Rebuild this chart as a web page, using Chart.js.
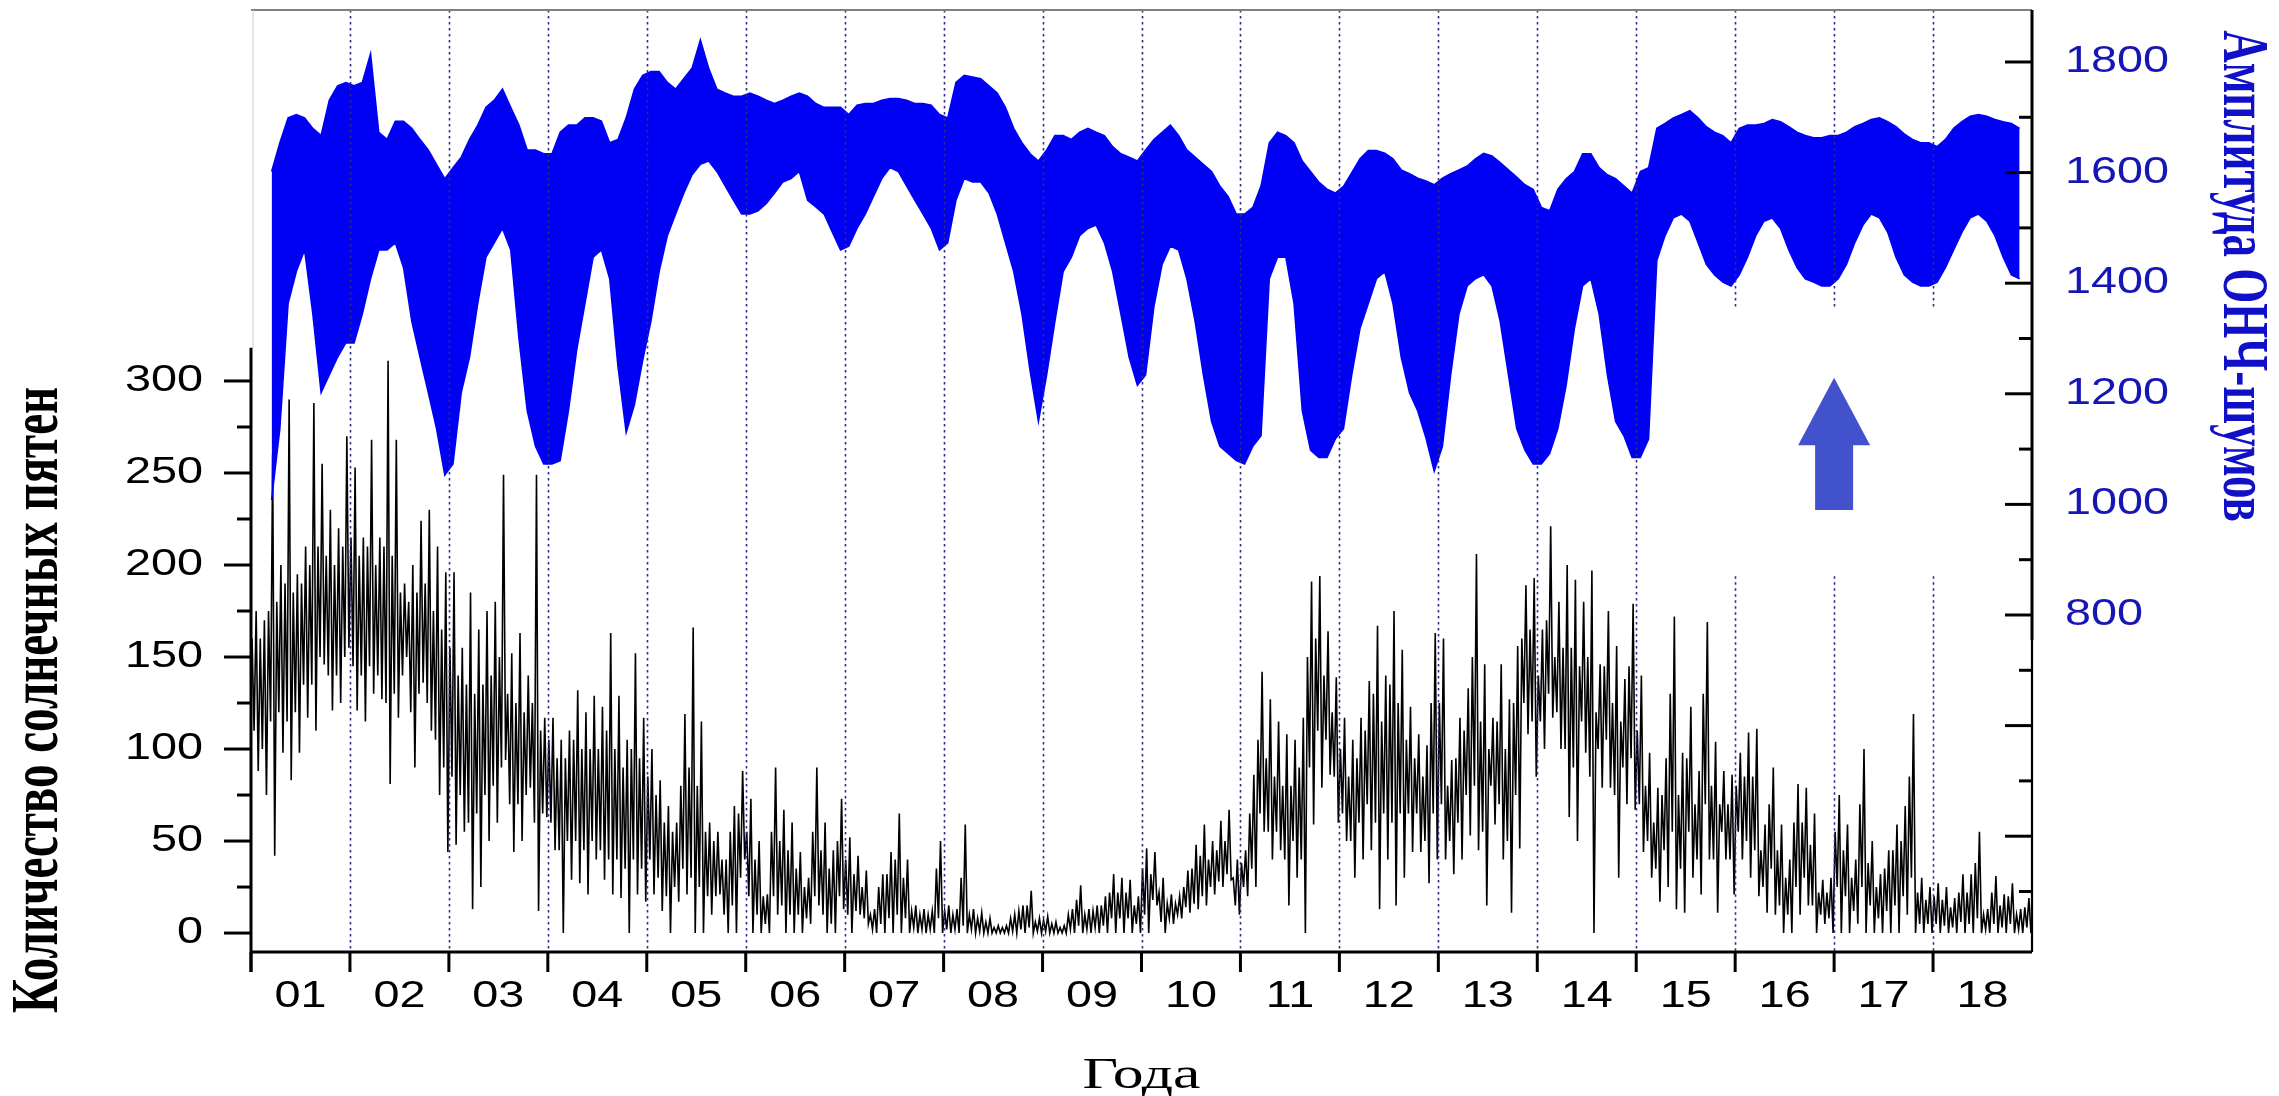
<!DOCTYPE html>
<html>
<head>
<meta charset="utf-8">
<script src="https://cdn.jsdelivr.net/npm/chart.js@4/dist/chart.umd.min.js"></script>
<style>
  html, body { margin: 0; padding: 0; background: #fff; }
  #wrap { width: 2279px; height: 1096px; position: relative; }
</style>
</head>
<body>
<div id="wrap"><canvas id="vlfChart"></canvas></div>
<script>
// years 2001..2018, one value per month
var years = [2001, 2002, 2003, 2004, 2005, 2006, 2007, 2008, 2009, 2010, 2011, 2012, 2013, 2014, 2015, 2016, 2017, 2018];
var yearLabels = ['01', '02', '03', '04', '05', '06', '07', '08', '09', '10', '11', '12', '13', '14', '15', '16', '17', '18'];
var spotTicks = [0, 50, 100, 150, 200, 250, 300];
var vlfTicks = [800, 1000, 1200, 1400, 1600, 1800];

// sunspot number: monthly extreme peaks and troughs
var spotsHigh = [
  175, 170, 260, 200, 290, 195, 210, 288, 255, 230, 220, 270,
  253, 215, 268, 215, 311, 268, 190, 200, 224, 230, 210, 196,
  196, 155, 185, 165, 175, 180, 249, 152, 163, 140, 249, 117,
  117, 105, 110, 132, 120, 129, 123, 163, 129, 105, 152, 117,
  100, 83, 69, 60, 119, 166, 115, 60, 55, 40, 69, 88,
  73, 50, 21, 90, 67, 60, 44, 30, 90, 60, 45, 73,
  52, 42, 34, 13, 32, 44, 65, 40, 15, 13, 12, 50,
  15, 13, 59, 13, 11, 8, 4, 4, 10, 15, 23, 8,
  9, 6, 4, 13, 26, 13, 15, 20, 32, 30, 29, 20,
  46, 44, 30, 21, 20, 34, 48, 59, 50, 61, 67, 40,
  45, 86, 142, 127, 115, 108, 105, 117, 191, 194, 164, 139,
  117, 105, 117, 137, 167, 140, 175, 154, 123, 108, 102, 163,
  160, 94, 117, 133, 206, 146, 117, 146, 127, 156, 189, 193,
  165, 221, 180, 200, 192, 180, 197, 146, 175, 156, 138, 179,
  140, 98, 79, 95, 172, 98, 123, 88, 169, 104, 88, 86,
  98, 109, 111, 59, 90, 59, 40, 81, 79, 65, 29, 30,
  75, 59, 40, 100, 50, 32, 45, 59, 69, 119, 30, 25,
  27, 25, 19, 32, 32, 55, 13, 31, 21, 27, 13, 19
];
var spotsLow = [
  88, 75, 42, 98, 83, 98, 117, 110, 146, 121, 125, 155,
  121, 115, 130, 127, 81, 117, 150, 90, 136, 110, 75, 44,
  48, 55, 13, 25, 50, 60, 94, 44, 50, 79, 12, 63,
  45, 0, 29, 27, 21, 40, 29, 21, 19, 0, 21, 17,
  21, 12, 0, 17, 21, 0, 0, 10, 21, 0, 0, 40,
  0, 0, 0, 10, 0, 0, 0, 5, 15, 0, 0, 13,
  0, 10, 5, 0, 0, 0, 0, 0, 0, 0, 0, 0,
  0, 0, 0, 0, 0, 0, 0, 0, 0, 0, 0, 0,
  0, 0, 0, 0, 0, 0, 0, 0, 0, 0, 0, 0,
  0, 15, 0, 5, 8, 11, 13, 15, 21, 25, 29, 10,
  20, 25, 55, 40, 45, 15, 30, 0, 59, 79, 86, 60,
  50, 30, 40, 45, 13, 40, 15, 30, 44, 44, 27, 40,
  40, 32, 40, 53, 45, 15, 59, 40, 11, 46, 108, 85,
  100, 117, 100, 63, 50, 98, 0, 79, 79, 30, 70, 67,
  44, 30, 17, 25, 13, 11, 30, 21, 40, 11, 40, 21,
  40, 30, 20, 11, 10, 0, 0, 10, 15, 0, 5, 0,
  0, 0, 5, 0, 0, 0, 0, 0, 10, 0, 0, 0,
  0, 0, 0, 0, 0, 0, 0, 0, 0, 0, 0, 0
];
// sunspot number: upper and lower edge of the dense part, monthly
var spotsCoreHigh = [
  160, 160, 175, 180, 190, 185, 190, 200, 210, 205, 200, 210,
  215, 205, 210, 200, 210, 205, 185, 180, 185, 190, 175, 165,
  155, 140, 135, 130, 135, 140, 150, 130, 125, 120, 125, 110,
  105, 95, 95, 105, 100, 100, 100, 110, 100, 90, 100, 95,
  85, 75, 60, 55, 80, 90, 80, 55, 50, 40, 55, 65,
  55, 40, 20, 55, 50, 45, 35, 25, 55, 45, 35, 50,
  40, 32, 25, 10, 25, 32, 40, 30, 12, 10, 10, 35,
  12, 10, 30, 10, 8, 6, 3, 3, 8, 12, 15, 6,
  7, 5, 3, 10, 18, 10, 12, 15, 22, 22, 22, 15,
  35, 32, 22, 16, 16, 25, 35, 42, 40, 45, 50, 30,
  38, 65, 105, 95, 85, 80, 80, 90, 150, 160, 140, 120,
  100, 85, 95, 110, 130, 115, 135, 125, 105, 95, 85, 125,
  125, 80, 95, 110, 150, 115, 100, 115, 100, 125, 160, 165,
  140, 170, 150, 155, 155, 145, 150, 120, 145, 125, 115, 145,
  110, 80, 60, 75, 130, 75, 95, 70, 130, 80, 70, 70,
  80, 85, 85, 45, 70, 45, 30, 60, 60, 48, 22, 22,
  55, 45, 30, 70, 38, 25, 35, 45, 50, 85, 22, 18,
  20, 18, 14, 22, 22, 38, 10, 22, 15, 20, 10, 14
];
var spotsCoreLow = [
  110, 100, 115, 120, 115, 120, 135, 135, 150, 140, 140, 150,
  145, 140, 145, 140, 125, 130, 140, 120, 130, 125, 105, 90,
  85, 75, 60, 65, 75, 80, 90, 70, 70, 75, 60, 65,
  60, 45, 50, 50, 45, 50, 45, 40, 40, 35, 40, 35,
  40, 30, 20, 25, 35, 30, 25, 20, 20, 10, 15, 30,
  20, 10, 5, 20, 15, 10, 10, 8, 20, 10, 5, 20,
  10, 12, 8, 2, 5, 8, 10, 8, 3, 2, 2, 8,
  2, 2, 4, 2, 1, 0, 0, 0, 1, 2, 3, 1,
  1, 0, 0, 2, 4, 2, 3, 4, 8, 8, 8, 5,
  10, 18, 6, 8, 10, 14, 16, 20, 25, 28, 32, 15,
  25, 35, 65, 55, 55, 40, 50, 40, 90, 110, 105, 85,
  65, 50, 60, 70, 60, 65, 60, 65, 65, 65, 50, 65,
  70, 50, 60, 75, 80, 55, 80, 70, 50, 75, 125, 115,
  115, 130, 120, 100, 90, 115, 85, 100, 105, 75, 90, 95,
  70, 50, 35, 45, 55, 35, 55, 40, 70, 40, 55, 40,
  55, 50, 45, 25, 35, 15, 10, 25, 30, 15, 10, 8,
  25, 20, 12, 25, 15, 8, 12, 15, 20, 30, 5, 5,
  5, 4, 3, 6, 5, 8, 2, 5, 3, 5, 2, 3
];

// VLF noise amplitude: monthly upper and lower edge of the band
var vlfHigh = [
  null, null, 1602, 1654, 1699, 1705, 1699, 1680, 1667, 1731, 1757, 1763,
  1757, 1763, 1815, 1673, 1660, 1693, 1693, 1680, 1660, 1641, 1615, 1589,
  1609, 1628, 1660, 1686, 1718, 1731, 1751, 1718, 1686, 1641, 1641, 1634,
  1634, 1673, 1686, 1686, 1699, 1699, 1693, 1654, 1660, 1699, 1751, 1776,
  1783, 1783, 1763, 1751, 1770, 1789, 1840, 1789, 1751, 1744, 1738, 1738,
  1744, 1738, 1731, 1725, 1731, 1738, 1744, 1738, 1725, 1718, 1718, 1718,
  1705, 1722, 1725, 1725, 1731, 1734, 1734, 1731, 1725, 1725, 1722, 1705,
  1699, 1763, 1776, 1773, 1770, 1757, 1744, 1718, 1680, 1654, 1634, 1621,
  1641, 1667, 1667, 1660, 1673, 1680, 1673, 1667, 1647, 1634, 1628, 1621,
  1641, 1660, 1673, 1686, 1667, 1641, 1628, 1615, 1602, 1576, 1557, 1525,
  1525, 1537, 1576, 1654, 1673, 1667, 1654, 1621, 1602, 1583, 1570, 1563,
  1575, 1600, 1625, 1640, 1640, 1635, 1625, 1605, 1598, 1590, 1585, 1578,
  1590, 1598, 1605, 1612, 1625, 1635, 1630, 1618, 1605, 1592, 1578, 1570,
  1537, 1531, 1570, 1589, 1602, 1634, 1634, 1609, 1596, 1589, 1576, 1563,
  1602, 1609, 1680, 1689, 1699, 1705, 1712, 1699, 1683, 1673, 1667, 1654,
  1680, 1686, 1686, 1689, 1696, 1692, 1683, 1673, 1667, 1663, 1663, 1667,
  1667, 1673, 1683, 1689, 1696, 1699, 1692, 1683, 1670, 1660, 1654, 1654,
  1647, 1660, 1680, 1692, 1702, 1705, 1702, 1696, 1692, 1689, 1680, null
];
var vlfLow = [
  null, null, 1008, 1137, 1363, 1421, 1460, 1344, 1202, 1234, 1266, 1292,
  1292, 1344, 1408, 1460, 1460, 1473, 1428, 1331, 1266, 1202, 1137, 1053,
  1073, 1202, 1266, 1363, 1447, 1473, 1499, 1460, 1299, 1169, 1105, 1073,
  1073, 1079, 1169, 1279, 1363, 1447, 1460, 1408, 1250, 1130, 1180, 1260,
  1331, 1421, 1486, 1525, 1563, 1596, 1615, 1621, 1602, 1576, 1550, 1525,
  1525, 1531, 1544, 1563, 1583, 1589, 1602, 1550, 1538, 1525, 1492, 1460,
  1467, 1499, 1525, 1557, 1589, 1609, 1602, 1576, 1550, 1525, 1499, 1460,
  1473, 1550, 1589, 1583, 1583, 1563, 1525, 1473, 1421, 1344, 1240, 1150,
  1234, 1331, 1421, 1447, 1486, 1499, 1505, 1473, 1421, 1344, 1266, 1215,
  1234, 1357, 1434, 1467, 1460, 1408, 1331, 1234, 1150, 1105, 1092, 1079,
  1073, 1105, 1124, 1408, 1447, 1447, 1363, 1169, 1098, 1085, 1085, 1118,
  1137, 1234, 1318, 1363, 1408, 1421, 1363, 1266, 1202, 1169, 1120, 1060,
  1105, 1234, 1344, 1395, 1408, 1415, 1395, 1331, 1234, 1137, 1098, 1073,
  1073, 1092, 1137, 1215, 1318, 1395, 1408, 1344, 1234, 1150, 1124, 1085,
  1085, 1118, 1441, 1486, 1518, 1525, 1512, 1473, 1434, 1415, 1402, 1395,
  1415, 1447, 1486, 1512, 1518, 1499, 1460, 1428, 1408, 1402, 1395, 1395,
  1408, 1434, 1473, 1505, 1525, 1518, 1492, 1447, 1415, 1402, 1395, 1395,
  1402, 1428, 1460, 1492, 1518, 1525, 1512, 1486, 1447, 1415, 1408, null
];

// arrow marker (year, right-axis values)
var arrowYear = 2017, arrowTip = 1229, arrowNeck = 1107, arrowTail = 990;

// four readings per month: dense part first, then the month's extremes
var spotPoints = [];
spotsHigh.forEach(function (v, i) {
  var t = years[0] + i / 12;
  spotPoints.push({ x: t + 0.125 / 12, y: spotsCoreHigh[i] });
  spotPoints.push({ x: t + 0.375 / 12, y: spotsCoreLow[i] });
  spotPoints.push({ x: t + 0.625 / 12, y: v });
  spotPoints.push({ x: t + 0.875 / 12, y: spotsLow[i] });
});
var vlfUpper = vlfHigh.map(function (v, i) { return { x: years[0] + (i + 0.5) / 12, y: v }; });
var vlfLower = vlfLow.map(function (v, i) { return { x: years[0] + (i + 0.5) / 12, y: v }; });

function line(c, x1, y1, x2, y2) {
  c.beginPath(); c.moveTo(x1, y1); c.lineTo(x2, y2); c.stroke();
}
function wideText(c, s, x, y, sx, sy, rot) {
  c.save();
  c.translate(x, y);
  if (rot) c.rotate(rot);
  c.scale(sx, sy);
  c.fillText(s, 0, 0);
  c.restore();
}

var frame = {
  id: 'frame',
  afterDatasetsDraw: function (chart) {
    var c = chart.ctx, a = chart.chartArea, x = chart.scales.x, yR = chart.scales.yR;
    c.save();
    c.strokeStyle = 'rgb(45,45,130)';
    c.lineWidth = 1.6;
    c.setLineDash([2.5, 3.5]);
    for (var yr = years[1]; yr <= years[years.length - 1]; yr++) {
      var px = Math.round(x.getPixelForValue(yr)) + 0.5;
      if (yr >= 2016) {
        line(c, px, a.top, px, yR.getPixelForValue(1355));
        line(c, px, yR.getPixelForValue(870), px, a.bottom);
      } else {
        line(c, px, a.top, px, a.bottom);
      }
    }
    c.restore();
  },
  afterDraw: function (chart) {
    var c = chart.ctx, a = chart.chartArea, x = chart.scales.x;
    var yL = chart.scales.yL, yR = chart.scales.yR;
    var v, py, px, len;
    c.save();

    // frame
    c.strokeStyle = '#808080'; c.lineWidth = 2;
    line(c, a.left, a.top, a.right, a.top);
    c.strokeStyle = '#cccccc'; c.lineWidth = 1;
    line(c, a.left + 2, a.top, a.left + 2, yL.getPixelForValue(318));

    // left axis
    c.strokeStyle = '#000'; c.lineWidth = 3;
    line(c, a.left, yL.getPixelForValue(318), a.left, a.bottom + 20);
    for (v = 0; v <= 300; v += 25) {
      len = v % 50 === 0 ? 27 : 14;
      py = yL.getPixelForValue(v);
      line(c, a.left - len, py, a.left, py);
    }

    // bottom axis
    line(c, a.left, a.bottom, a.right, a.bottom);
    years.forEach(function (yr) {
      px = x.getPixelForValue(yr);
      line(c, px, a.bottom, px, a.bottom + 20);
    });

    // right axis
    line(c, a.right, a.top, a.right, yR.getPixelForValue(755));
    c.lineWidth = 2.2;
    line(c, a.right, yR.getPixelForValue(755), a.right, a.bottom);
    c.lineWidth = 3;
    for (v = 300; v <= 1800; v += 100) {
      len = v % 200 === 0 ? 27 : 13;
      py = yR.getPixelForValue(v);
      line(c, a.right - len, py, a.right, py);
    }

    // tick labels
    c.font = '36px "Liberation Sans", Arial, sans-serif';
    c.textBaseline = 'middle';
    c.fillStyle = '#000';
    c.textAlign = 'right';
    spotTicks.forEach(function (t) {
      wideText(c, String(t), a.left - 48, yL.getPixelForValue(t), 1.3, 1);
    });
    c.textAlign = 'center';
    yearLabels.forEach(function (s, i) {
      wideText(c, s, x.getPixelForValue(years[i] + 0.5), a.bottom + 45, 1.3, 1);
    });
    c.fillStyle = '#1616b4';
    c.textAlign = 'left';
    vlfTicks.forEach(function (t) {
      wideText(c, String(t), a.right + 33, yR.getPixelForValue(t), 1.3, 1);
    });

    // axis titles
    c.textAlign = 'center';
    c.fillStyle = '#000';
    c.font = 'bold 47px "Liberation Serif", "Times New Roman", serif';
    wideText(c, 'Количество солнечных пятен', 39, 700, 1, 1.45, -Math.PI / 2);
    c.fillStyle = '#1010c8';
    c.font = 'bold 45px "Liberation Serif", "Times New Roman", serif';
    wideText(c, 'Амплитуда ОНЧ-шумов', 2241, 276, 1, 1.45, Math.PI / 2);
    c.fillStyle = '#000';
    c.textBaseline = 'alphabetic';
    c.font = '44px "Liberation Serif", "Times New Roman", serif';
    wideText(c, 'Года', (a.left + a.right) / 2, 1088, 1.4, 1);

    // arrow
    var ax = x.getPixelForValue(arrowYear);
    var yTip = yR.getPixelForValue(arrowTip), yNeck = yR.getPixelForValue(arrowNeck), yTail = yR.getPixelForValue(arrowTail);
    c.fillStyle = 'rgb(66,82,204)';
    c.beginPath();
    c.moveTo(ax, yTip);
    c.lineTo(ax + 36, yNeck);
    c.lineTo(ax + 19, yNeck);
    c.lineTo(ax + 19, yTail);
    c.lineTo(ax - 19, yTail);
    c.lineTo(ax - 19, yNeck);
    c.lineTo(ax - 36, yNeck);
    c.closePath();
    c.fill();

    c.restore();
  }
};

var ctx = document.getElementById('vlfChart').getContext('2d');
var chart = new Chart(ctx, {
  type: 'line',
  data: {
    datasets: [{
      label: 'ОНЧ верх',
      data: vlfUpper,
      yAxisID: 'yR',
      borderColor: '#0000f5',
      backgroundColor: '#0000f5',
      borderWidth: 1.5,
      pointRadius: 0,
      fill: '+1'
    }, {
      label: 'ОНЧ низ',
      data: vlfLower,
      yAxisID: 'yR',
      borderColor: '#0000f5',
      borderWidth: 1.5,
      pointRadius: 0,
      fill: false
    }, {
      label: 'Солнечные пятна',
      data: spotPoints,
      yAxisID: 'yL',
      borderColor: '#000',
      borderWidth: 1.6,
      pointRadius: 0,
      fill: false
    }]
  },
  options: {
    responsive: true,
    maintainAspectRatio: false,
    animation: false,
    layout: { padding: { left: 251, right: 247, top: 10, bottom: 144 } },
    plugins: { legend: { display: false }, tooltip: { enabled: false } },
    scales: {
      x: { type: 'linear', min: 2001, max: 2019, display: false },
      yL: { type: 'linear', position: 'left', min: -10.3, max: 501.6, display: false },
      yR: { type: 'linear', position: 'right', min: 190.6, max: 1894, display: false }
    }
  },
  plugins: [frame]
});
</script>
</body>
</html>
